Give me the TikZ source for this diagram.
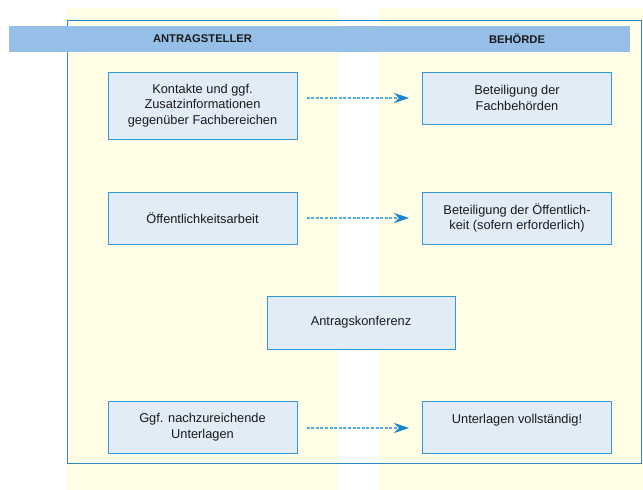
\documentclass[tikz,border=0pt]{standalone}
\usepackage{fontspec}
\setmainfont{Liberation Sans}
\usetikzlibrary{arrows.meta,calc}
\definecolor{colyellow}{HTML}{FFFDE5}
\definecolor{barblue}{HTML}{95BFE6}
\definecolor{frameline}{HTML}{2A8BC8}
\definecolor{boxline}{HTML}{3497D8}
\definecolor{boxfill}{HTML}{E2ECF7}
\definecolor{arrline}{HTML}{55ABE2}
\definecolor{arrtip}{HTML}{1A86CF}
\definecolor{textcol}{HTML}{1A1A1A}
\begin{document}
\begin{tikzpicture}[x=1pt,y=-1pt,
  stepbox/.style={draw=boxline, line width=1pt, fill=boxfill,
    minimum width=189pt, minimum height=52pt, align=center,
    font=\fontsize{12.8}{15.5}\selectfont, text=textcol, inner sep=0pt},
  headlabel/.style={font=\fontsize{11.2}{13}\selectfont\bfseries, text=textcol, inner sep=0pt},
  flow/.style={draw=arrline, line width=1.3pt, dash pattern=on 3pt off 1.6pt,
    -{Stealth[length=15pt,width=10pt,inset=5pt,color=arrtip]}}
]
\useasboundingbox (0,0) rectangle (643,490);
% columns
\fill[colyellow] (66,8) rectangle (339,490);
\fill[colyellow] (379,8) rectangle (643,490);
% frame
\draw[frameline, line width=1pt] (67,20) rectangle (641,463);
% header bar
\fill[barblue] (9,26) rectangle (630,52);
\node[headlabel] (hl) at (202.5,39) {ANTRAGSTELLER};
\node[headlabel] (hr) at (517,39) {BEHÖRDE};
% boxes
\node[stepbox, minimum height=67pt] (L1) at (202.5,105.5) {Kontakte und ggf.\\Zusatzinformationen\\gegenüber Fachbereichen};
\node[stepbox] (R1) at (517,98) {Beteiligung der\\Fachbehörden};
\node[stepbox] (L2) at (202.5,218) {Öffentlichkeitsarbeit};
\node[stepbox] (R2) at (517,218) {Beteiligung der Öffentlich-\\keit (sofern erforderlich)};
\node[stepbox, minimum width=188pt, minimum height=53pt] (A) at (361,322.5) {Antragskonferenz};
\node[stepbox] (L4) at (202.5,427) {Ggf. nachzureichende\\Unterlagen};
\node[stepbox] (R4) at (517,427) {Unterlagen vollständig!\\\mbox{}};
% arrows
\draw[flow] ($(L1.east|-R1.west)+(9,0)$) -- ($(R1.west)+(-13,0)$);
\draw[flow] ($(L2.east|-R2.west)+(9,0)$) -- ($(R2.west)+(-13,0)$);
\draw[flow] ($(L4.east|-R4.west)+(9,1)$) -- ($(R4.west)+(-13,1)$);
\end{tikzpicture}
\end{document}
